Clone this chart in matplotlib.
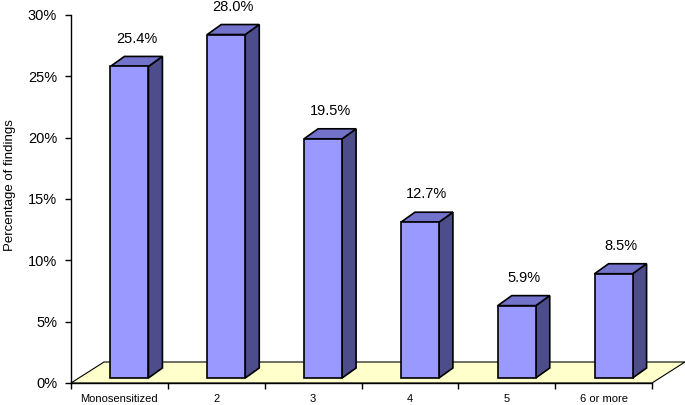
import numpy as np
import matplotlib
matplotlib.use('Agg')
from matplotlib import pyplot as plt
from matplotlib.patches import Polygon

categories = ['Monosensitized', '2', '3', '4', '5', '6 or more']
values = [25.4, 28.0, 19.5, 12.7, 5.9, 8.5]
yticks = [0, 5, 10, 15, 20, 25, 30]

plt.rcParams['font.family'] = ['Liberation Sans', 'DejaVu Sans']

W, H = 685, 405
fig = plt.figure(figsize=(W / 100, H / 100), dpi=100)
ax = fig.add_axes([71 / W, (H - 383) / H, 581 / W, 368 / H])
ax.set_xlim(0, 6)
ax.set_ylim(0, 30)

# pixel -> data scale
px_x = 6 / 581.0
px_y = 30 / 368.0

# floor
fdx, fdy = 33 * px_x, 21 * px_y
floor = Polygon([(0, 0), (6, 0), (6 + fdx, fdy), (fdx, fdy)], closed=True,
                facecolor='#ffffcc', edgecolor='black', lw=0.8, clip_on=False, zorder=1)
ax.add_patch(floor)

# bars
bw = 38 * px_x
shift = 10 * px_x
y0 = 5 * px_y
ddx, ddy = 14 * px_x, 10 * px_y
for i, v in enumerate(values):
    cx = i + 0.5 + shift
    x1, x2 = cx - bw / 2, cx + bw / 2
    top = y0 + v
    front = Polygon([(x1, y0), (x2, y0), (x2, top), (x1, top)],
                    facecolor='#9999ff', edgecolor='black', lw=1.2, clip_on=False, zorder=3)
    side = Polygon([(x2, y0), (x2 + ddx, y0 + ddy), (x2 + ddx, top + ddy), (x2, top)],
                   facecolor='#4d4d8c', edgecolor='black', lw=1.2, clip_on=False, zorder=3)
    lid = Polygon([(x1, top), (x2, top), (x2 + ddx, top + ddy), (x1 + ddx, top + ddy)],
                  facecolor='#7373cc', edgecolor='black', lw=1.2, clip_on=False, zorder=3)
    ax.add_patch(side)
    ax.add_patch(lid)
    ax.add_patch(front)
    ax.text(cx + ddx / 2, top + ddy + 1.45, '%.1f%%' % v, ha='center', va='center',
            fontsize=10.5, clip_on=False)

ax.spines['top'].set_visible(False)
ax.spines['right'].set_visible(False)
ax.spines['left'].set_linewidth(1.0)
ax.spines['bottom'].set_linewidth(1.0)
ax.spines['left'].set_zorder(4)
ax.spines['bottom'].set_zorder(4)

ax.set_yticks(yticks)
ax.set_yticklabels(['%d%%' % t for t in yticks], fontsize=10.5)
ax.tick_params(axis='y', length=4, width=1.0, pad=6)

ax.set_xticks(np.arange(0, 7))
ax.set_xticklabels([])
ax.set_xticks(np.arange(6) + 0.5, minor=True)
ax.set_xticklabels(categories, minor=True, fontsize=8)
ax.tick_params(axis='x', which='major', length=4, width=1.0)
ax.tick_params(axis='x', which='minor', length=0, pad=8)

ax.set_ylabel('Percentage of findings', fontsize=9.5)
ax.yaxis.set_label_coords(-0.095, 0.538)

fig.savefig('out.png', dpi=100)
